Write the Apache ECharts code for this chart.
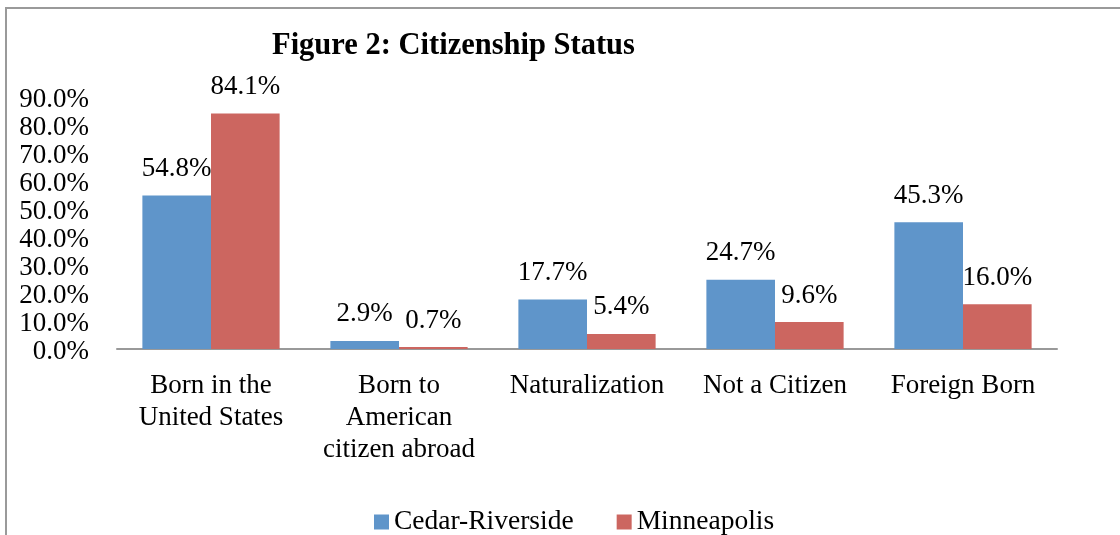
<!DOCTYPE html>
<html>
<head>
<meta charset="utf-8">
<script src="https://cdn.jsdelivr.net/npm/echarts@6/dist/echarts.min.js"></script>
<style>
html,body{margin:0;padding:0;background:#fff;}
#chart{width:1120px;height:535px;}
</style>
</head>
<body>
<div id="chart"></div>
<script>
var categories = ['Born in the\nUnited States', 'Born to\nAmerican\ncitizen abroad', 'Naturalization', 'Not a Citizen', 'Foreign Born'];
var cedarRiverside = [54.8, 2.9, 17.7, 24.7, 45.3];
var minneapolis = [84.1, 0.7, 5.4, 9.6, 16.0];
var seriesNames = ['Cedar-Riverside', 'Minneapolis'];
var yTicks = {min: 0, max: 90, interval: 10};

var FONT = '"Liberation Serif", "Times New Roman", serif';
var chart = echarts.init(document.getElementById('chart'), null, {renderer: 'canvas'});
var labelCfg = {
  show: true, position: 'top', distance: 13,
  fontFamily: FONT, fontSize: 27, color: '#000',
  formatter: function (p) { return p.value.toFixed(1) + '%'; }
};
chart.setOption({
  animation: false,
  backgroundColor: '#fff',
  graphic: [{
    type: 'rect', z: 100, silent: true,
    shape: {x: 6, y: 8, width: 1300, height: 700},
    style: {fill: 'none', stroke: '#9a9a9a', lineWidth: 2}
  }],
  title: {
    text: 'Figure 2: Citizenship Status',
    left: 267, top: 26,
    textStyle: {fontFamily: FONT, fontWeight: 'bold', fontSize: 30.5, color: '#000'}
  },
  legend: {
    data: seriesNames,
    left: 369, top: 503,
    itemWidth: 15, itemHeight: 15, itemGap: 43,
    icon: 'rect',
    textStyle: {fontFamily: FONT, fontSize: 27.5, color: '#000'}
  },
  grid: {left: 117, right: 63, top: 97, bottom: 186, containLabel: false},
  xAxis: {
    type: 'category',
    data: categories,
    axisLine: {show: true, lineStyle: {color: '#999', width: 2}},
    axisTick: {show: false},
    axisLabel: {fontFamily: FONT, fontSize: 27, color: '#000', lineHeight: 32, margin: 21, interval: 0}
  },
  yAxis: {
    type: 'value',
    min: yTicks.min, max: yTicks.max, interval: yTicks.interval,
    axisLine: {show: false},
    axisTick: {show: false},
    splitLine: {show: false},
    axisLabel: {margin: 28,
      formatter: function (v) { return '{a|' + v.toFixed(1) + '%}'; },
      rich: {a: {fontFamily: FONT, fontSize: 27, color: '#000', padding: [6, 0, 0, 0]}}
    }
  },
  series: [
    {name: seriesNames[0], type: 'bar', data: cedarRiverside, barGap: '0%', barCategoryGap: '27%',
     itemStyle: {color: '#5F95CA'}, label: labelCfg},
    {name: seriesNames[1], type: 'bar', data: minneapolis, barGap: '0%', barCategoryGap: '27%',
     itemStyle: {color: '#CC6660'}, label: labelCfg}
  ]
});
</script>
</body>
</html>
